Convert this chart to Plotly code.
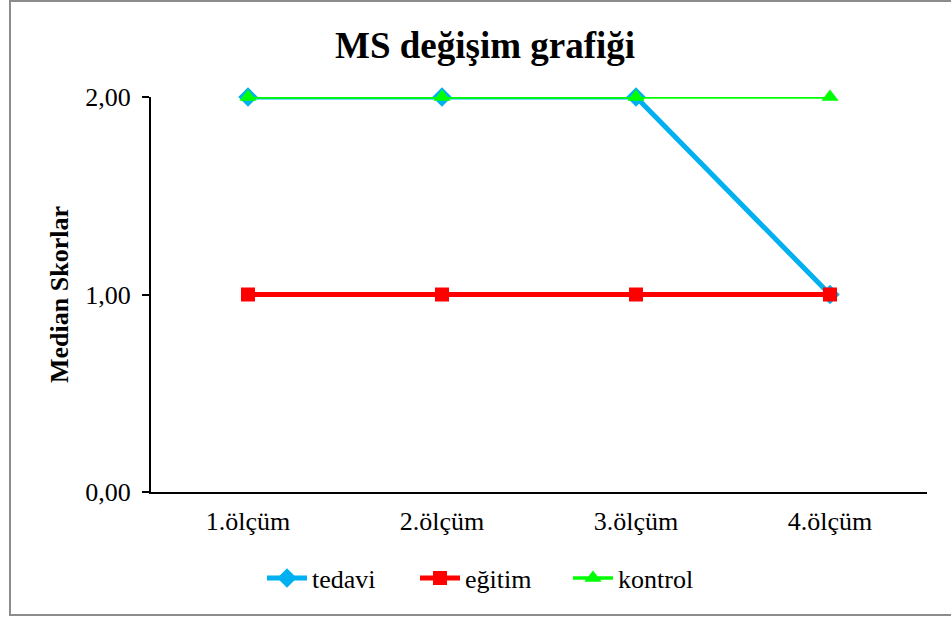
import plotly.graph_objects as go

categories = ["1.ölçüm", "2.ölçüm", "3.ölçüm", "4.ölçüm"]
tedavi = [2, 2, 2, 1]
egitim = [1, 1, 1, 1]
kontrol = [2, 2, 2, 2]
y_tickvals = [0, 1, 2]
y_ticktext = ["0,00", "1,00", "2,00"]

FONT = "Liberation Serif, Times New Roman, serif"

fig = go.Figure()
fig.add_trace(go.Scatter(x=categories, y=tedavi, name="tedavi", mode="lines+markers",
                         cliponaxis=False,
                         line=dict(color="#00B0F0", width=5),
                         marker=dict(symbol="diamond", size=15, color="#00B0F0")))
fig.add_trace(go.Scatter(x=categories, y=egitim, name="eğitim", mode="lines+markers",
                         cliponaxis=False,
                         line=dict(color="#FF0000", width=5),
                         marker=dict(symbol="square", size=14, color="#FF0000")))
fig.add_trace(go.Scatter(x=categories, y=kontrol, name="kontrol", mode="lines+markers",
                         cliponaxis=False,
                         line=dict(color="#00FF00", width=3.5),
                         marker=dict(symbol="triangle-up", size=15, color="#00FF00")))

L, R, T, B = 151, 24, 97, 127
W, H = 951, 619
pw, ph = W - L - R, H - T - B

def px(x):
    return (x - L) / pw

def py(y):
    return (H - B - y) / ph

fig.update_layout(
    width=W, height=H,
    margin=dict(l=L, r=R, t=T, b=B),
    paper_bgcolor="white", plot_bgcolor="white",
    font=dict(family=FONT, color="black", size=26),
    title=dict(text="<b>MS değişim grafiği</b>", x=485 / W, xanchor="center",
               y=1 - 45 / H, yanchor="middle", font=dict(size=37, family=FONT)),
    showlegend=True,
    legend=dict(orientation="h", x=px(262), xanchor="left", y=py(578), yanchor="middle",
                font=dict(size=26, family=FONT), itemwidth=40, tracegroupgap=0,
                entrywidth=98, entrywidthmode="pixels"),
    xaxis=dict(type="category", range=[-0.5, 3.5], showline=True, linecolor="black",
               linewidth=2, ticks="", showgrid=False, zeroline=False,
               tickfont=dict(size=26, family=FONT), ticklabelstandoff=5),
    yaxis=dict(range=[0, 2], tickvals=y_tickvals, ticktext=y_ticktext, showline=True,
               linecolor="black", linewidth=2, ticks="outside", ticklen=7, tickwidth=2,
               tickcolor="black", showgrid=False, zeroline=False,
               tickfont=dict(size=26, family=FONT), ticklabelstandoff=6,
               title=dict(text="<b>Median Skorlar</b>", font=dict(size=26, family=FONT),
                          standoff=9)),
    shapes=[dict(type="rect", xref="paper", yref="paper",
                 x0=px(10), x1=px(954), y0=py(615), y1=py(1),
                 line=dict(color="#8C8C8C", width=2), layer="below")],
)

fig.write_html("out.html", config={"displayModeBar": False},
               post_script="document.body.style.margin='0';")
